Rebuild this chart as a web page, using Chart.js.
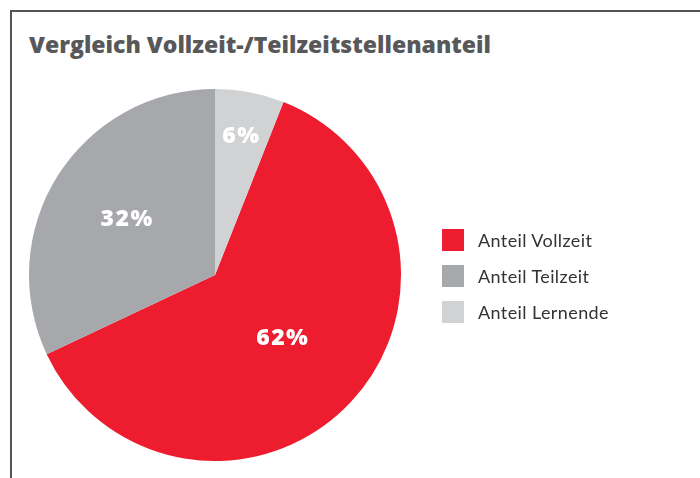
<!DOCTYPE html>
<html>
<head>
<meta charset="utf-8">
<script src="https://cdn.jsdelivr.net/npm/chart.js@4"></script>
<style>
  html, body { margin: 0; padding: 0; background: #fff; overflow: hidden; }
  body { width: 700px; height: 478px; position: relative; font-family: Lato, sans-serif; }
  .frame { position: absolute; left: 10px; top: 10px; width: 720px; height: 500px; border-top: 2px solid #555; border-left: 2px solid #555; }
  h1 { position: absolute; left: 29px; top: 29px; margin: 0; font-family: 'Open Sans', sans-serif; font-size: 23px; font-weight: 800; color: #58585a; white-space: nowrap; line-height: 30px; }
  #chart { position: absolute; left: 0; top: 0; }
  .legend { position: absolute; left: 442px; top: 229px; margin: 0; padding: 0; list-style: none; }
  .legend li { height: 36px; display: flex; align-items: flex-start; font-size: 18px; letter-spacing: 0.4px; color: #333; }
  .legend span.box { width: 22px; height: 22px; margin-right: 14px; flex: none; }
  .legend span.txt { line-height: 22px; }
</style>
</head>
<body>
<div class="frame"></div>
<h1>Vergleich Vollzeit-/Teilzeitstellenanteil</h1>
<canvas id="chart" width="700" height="478"></canvas>
<ul class="legend" id="legend"></ul>
<script>
const labels = ['Anteil Vollzeit', 'Anteil Teilzeit', 'Anteil Lernende'];
const anteil = [62, 32, 6];
const colors = ['#ed1c2e', '#a7a8ab', '#d1d2d4'];

// label distance from centre, as share of the radius
const labelRadius = [0.5, 0.56, 0.76];

const total = anteil.reduce((a, b) => a + b, 0);

const pieLabels = {
  id: 'pieLabels',
  afterDatasetsDraw(chart) {
    const ctx = chart.ctx;
    const meta = chart.getDatasetMeta(0);
    ctx.save();
    ctx.fillStyle = '#fff';
    ctx.font = '800 23px "Open Sans", sans-serif';
    ctx.letterSpacing = '1.5px';
    ctx.textAlign = 'center';
    ctx.textBaseline = 'middle';
    meta.data.forEach((arc, i) => {
      const { x, y, startAngle, endAngle, outerRadius } = arc.getProps(['x', 'y', 'startAngle', 'endAngle', 'outerRadius'], true);
      const mid = (startAngle + endAngle) / 2;
      const r = outerRadius * labelRadius[i];
      ctx.fillText(anteil[i] + '%', x + Math.cos(mid) * r, y + Math.sin(mid) * r);
    });
    ctx.restore();
  }
};

new Chart(document.getElementById('chart'), {
  type: 'pie',
  data: {
    labels: labels,
    datasets: [{
      data: anteil,
      backgroundColor: colors,
      borderWidth: 0
    }]
  },
  options: {
    responsive: false,
    animation: false,
    rotation: anteil[2] / total * 360,
    layout: { padding: { left: 29, right: 299, top: 89, bottom: 17 } },
    plugins: {
      legend: { display: false },
      tooltip: { enabled: false }
    }
  },
  plugins: [pieLabels]
});

const legend = document.getElementById('legend');
labels.forEach((l, i) => {
  const li = document.createElement('li');
  li.innerHTML = '<span class="box" style="background:' + colors[i] + '"></span><span class="txt">' + l + '</span>';
  legend.appendChild(li);
});
</script>
</body>
</html>
